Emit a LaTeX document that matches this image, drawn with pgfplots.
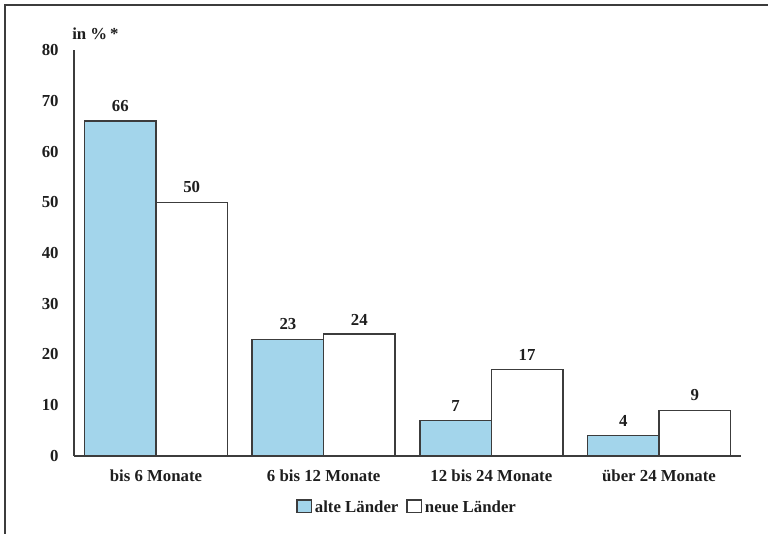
\documentclass[border=0pt]{standalone}
\usepackage{pgfplots}
\pgfplotsset{compat=1.18}
\usepackage{fontspec}
\setmainfont{Liberation Serif}

\definecolor{altblau}{RGB}{163,213,235}
\definecolor{rahmen}{RGB}{60,60,60}
\definecolor{schrift}{RGB}{30,30,30}
\newcommand{\lblfont}{\bfseries\fontsize{12.6}{14}\selectfont}

\begin{document}
\begin{tikzpicture}
\path[use as bounding box] (0pt,0pt) rectangle (576pt,400.5pt);
% outer frame (top and left edges)
\draw[rahmen, line width=1.5pt] (3.75pt,0pt) -- (3.75pt,396.75pt) -- (576pt,396.75pt);
\begin{axis}[
  at={(55.5pt,58.5pt)}, anchor=south west,
  scale only axis,
  width=500.25pt, height=304.5pt,
  clip=false,
  ybar=0pt, bar width=53.6pt,
  xmin=-0.489, xmax=3.489,
  ymin=0, ymax=80,
  ytick={0,10,...,80},
  xtick=data,
  xticklabels={bis 6 Monate, 6 bis 12 Monate, 12 bis 24 Monate, über 24 Monate},
  axis x line*=bottom, axis y line*=left,
  axis line style={rahmen, line width=1pt, -},
  major tick length=0pt,
  tick label style={font=\lblfont, text=schrift},
  /pgf/number format/assume math mode=true,
  yticklabel style={xshift=-8pt},
  xticklabel style={yshift=-6.5pt},
  nodes near coords,
  every node near coord/.append style={font=\lblfont, text=schrift, yshift=3pt},
  legend columns=2,
  legend style={draw=none, at={(0.5,-0.128)}, anchor=center,
    font=\lblfont, text=schrift,
    /tikz/every even column/.append style={column sep=4pt},
    inner sep=0pt},
  legend image code/.code={\draw[#1, line width=0.9pt] (0pt,-3.6pt) rectangle (11pt,6pt);},
]
\addplot[draw=rahmen, line width=1.1pt, fill=altblau] coordinates {(0,66) (1,23) (2,7) (3,4)};
\addplot[draw=rahmen, line width=1.1pt, fill=white] coordinates {(0,50) (1,24) (2,17) (3,9)};
\legend{alte Länder, neue Länder}
\node[anchor=west, inner sep=0pt, font=\lblfont, text=schrift]
  at ([xshift=-1.5pt, yshift=12.5pt]axis description cs:0,1) {in \%\,*};
\end{axis}
\end{tikzpicture}
\end{document}
